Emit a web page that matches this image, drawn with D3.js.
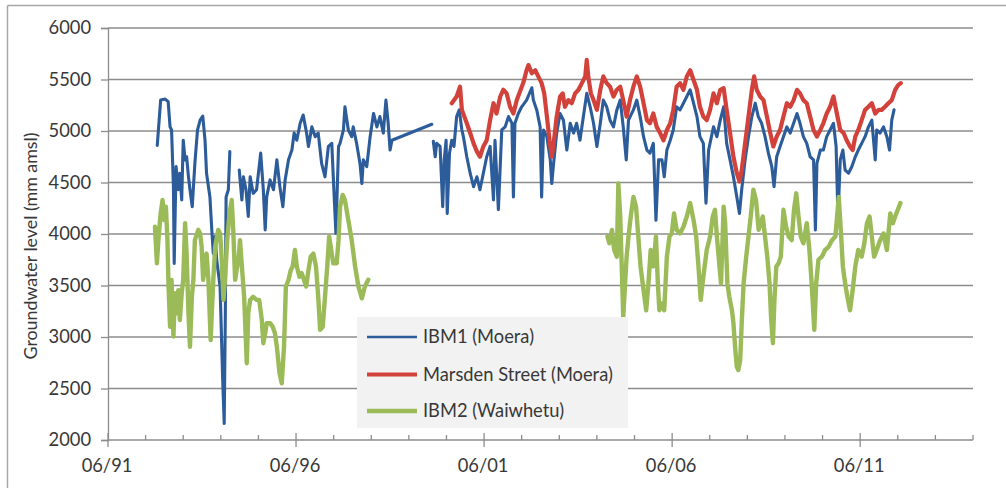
<!DOCTYPE html>
<html>
<head>
<meta charset="utf-8">
<script src="https://cdn.jsdelivr.net/npm/d3@7"></script>
<style>
  html, body { margin: 0; padding: 0; background: #ffffff; }
  svg { display: block; }
</style>
</head>
<body>
<svg id="chart" width="1006" height="491"></svg>
<script>
// ---------------- DATA ----------------
const seriesNames = ["IBM1 (Moera)", "Marsden Street (Moera)", "IBM2 (Waiwhetu)"];
const yTickValues = [2000, 2500, 3000, 3500, 4000, 4500, 5000, 5500, 6000];
const xMajorTicks = [1991.5, 1996.5, 2001.5, 2006.5, 2011.5];
const xTickLabels = ["06/91", "06/96", "06/01", "06/06", "06/11"];
const xMinorTicks = [1992.5,1993.5,1994.5,1995.5,1997.5,1998.5,1999.5,2000.5,2002.5,2003.5,2004.5,2005.5,2007.5,2008.5,2009.5,2010.5,2012.5,2013.5,2014.5];

// IBM1 (Moera) — [decimal year, level mm amsl]; null = gap
const ibm1 = [
[1992.81,4860],[1992.90,5300],[1993.02,5310],[1993.10,5285],[1993.15,5040],[1993.19,5010],[1993.24,4460],[1993.26,3715],[1993.31,4655],[1993.37,4430],[1993.41,4590],[1993.46,4330],[1993.50,4910],[1993.55,4720],[1993.59,4750],[1993.64,4555],[1993.68,4430],[1993.74,4265],[1993.81,4685],[1993.88,5010],[1993.95,5105],[1994.02,5145],[1994.08,4910],[1994.12,4590],[1994.21,4360],[1994.26,4040],[1994.30,3810],[1994.35,3975],[1994.39,3750],[1994.48,3490],[1994.55,2580],[1994.59,2160],[1994.62,3230],[1994.64,4360],[1994.70,4430],[1994.74,4800],
null,
[1994.99,4620],[1995.06,4330],[1995.10,4555],[1995.17,4430],[1995.23,4170],[1995.28,4555],[1995.36,4395],[1995.45,4430],[1995.56,4785],[1995.63,4430],[1995.68,4040],[1995.72,4360],[1995.81,4525],[1995.90,4430],[1995.99,4720],[1996.07,4460],[1996.15,4265],[1996.21,4525],[1996.30,4720],[1996.39,4815],[1996.45,4980],[1996.52,4910],[1996.61,5075],[1996.69,5155],[1996.78,4980],[1996.83,4850],[1996.92,5040],[1997.01,4945],[1997.09,4980],[1997.18,4685],[1997.27,4555],[1997.36,4850],[1997.45,4880],[1997.49,4555],[1997.56,4005],[1997.63,4850],[1997.67,4880],[1997.76,5010],[1997.80,5235],[1997.89,5010],[1997.98,4945],[1998.02,5040],[1998.11,4880],[1998.20,4685],[1998.25,4490],[1998.29,4720],[1998.38,4655],[1998.47,4945],[1998.56,5170],[1998.65,5040],[1998.73,5140],[1998.82,4980],[1998.89,5300],[1998.95,5075],[1999.00,4815],[1999.05,4910],[2000.11,5065],
null,
[2000.15,4900],[2000.20,4750],[2000.24,4880],[2000.33,4850],[2000.40,4265],[2000.44,4720],[2000.49,4910],[2000.52,4200],[2000.58,4785],[2000.64,4910],[2000.70,4850],[2000.77,5140],[2000.84,5205],[2000.91,5010],[2000.95,4945],[2001.04,4750],[2001.13,4590],[2001.22,4460],[2001.31,4555],[2001.39,4430],[2001.48,4590],[2001.57,4750],[2001.66,4850],[2001.75,4330],[2001.79,4910],[2001.88,4235],[2001.97,5010],[2002.06,5040],[2002.15,5140],[2002.24,5075],[2002.28,4360],[2002.32,5075],[2002.41,5170],[2002.50,5235],[2002.63,5300],[2002.77,5420],[2002.81,5300],[2002.90,5205],[2002.99,5040],[2003.03,4360],[2003.08,5010],[2003.17,4945],[2003.26,4720],[2003.30,4490],[2003.34,4655],[2003.43,4980],[2003.52,5170],[2003.61,5105],[2003.70,4815],[2003.79,5075],[2003.88,4980],[2003.96,5075],[2004.05,4910],[2004.14,5140],[2004.23,5365],[2004.32,5235],[2004.41,5075],[2004.50,4850],[2004.59,5075],[2004.67,5300],[2004.76,5235],[2004.85,5105],[2004.94,5040],[2005.03,5205],[2005.12,5300],[2005.20,5040],[2005.28,4720],[2005.34,5105],[2005.47,5205],[2005.56,5300],[2005.65,5140],[2005.74,4945],[2005.83,4815],[2005.91,4785],[2006.00,4880],[2006.07,4135],[2006.14,4720],[2006.23,4720],[2006.29,4555],[2006.36,4815],[2006.45,4910],[2006.53,5010],[2006.62,5235],[2006.71,5205],[2006.80,5270],[2006.89,5335],[2006.98,5400],[2007.07,5270],[2007.16,5140],[2007.24,4945],[2007.33,4880],[2007.40,4300],[2007.47,4815],[2007.60,5040],[2007.69,4945],[2007.78,5105],[2007.87,5235],[2007.95,4880],[2008.04,4720],[2008.13,4555],[2008.22,4360],[2008.29,4200],[2008.35,4430],[2008.44,4720],[2008.53,4945],[2008.62,5140],[2008.71,5270],[2008.79,5140],[2008.88,5075],[2008.97,4945],[2009.06,4785],[2009.15,4655],[2009.21,4460],[2009.28,4750],[2009.37,4850],[2009.46,4945],[2009.55,5040],[2009.64,4980],[2009.73,5075],[2009.82,5170],[2009.90,5075],[2009.99,4945],[2010.08,4880],[2010.17,4750],[2010.26,4720],[2010.31,4040],[2010.35,4685],[2010.44,4815],[2010.52,4815],[2010.61,4945],[2010.70,5010],[2010.79,5075],[2010.86,4850],[2010.91,4150],[2010.97,4720],[2011.04,4815],[2011.10,4620],[2011.19,4590],[2011.28,4655],[2011.37,4750],[2011.45,4815],[2011.54,4880],[2011.63,4945],[2011.72,5040],[2011.81,5105],[2011.90,4720],[2011.94,5010],[2012.03,4980],[2012.12,5040],[2012.21,4945],[2012.28,4815],[2012.34,5105],[2012.40,5205]
];

// Marsden Street (Moera)
const marsden = [
[2000.64,5270],[2000.77,5335],[2000.86,5430],[2000.91,5205],[2001.04,5075],[2001.13,4980],[2001.22,4880],[2001.31,4800],[2001.39,4750],[2001.48,4850],[2001.57,4910],[2001.66,5105],[2001.75,5270],[2001.83,5170],[2001.93,5335],[2002.01,5400],[2002.10,5365],[2002.19,5235],[2002.28,5170],[2002.37,5300],[2002.54,5465],[2002.63,5590],[2002.68,5640],[2002.77,5560],[2002.86,5590],[2002.94,5530],[2003.03,5465],[2003.10,5365],[2003.17,5140],[2003.24,4910],[2003.30,4750],[2003.34,4850],[2003.43,5140],[2003.52,5335],[2003.59,5365],[2003.65,5235],[2003.74,5300],[2003.83,5270],[2003.92,5365],[2004.01,5400],[2004.10,5465],[2004.19,5530],[2004.23,5690],[2004.27,5530],[2004.34,5365],[2004.41,5300],[2004.50,5205],[2004.59,5400],[2004.67,5530],[2004.76,5465],[2004.85,5430],[2004.94,5335],[2005.03,5400],[2005.12,5430],[2005.20,5300],[2005.29,5140],[2005.38,5300],[2005.47,5430],[2005.56,5530],[2005.65,5430],[2005.74,5270],[2005.83,5105],[2005.91,5075],[2006.00,5170],[2006.09,5040],[2006.18,4980],[2006.27,4910],[2006.36,5010],[2006.45,5075],[2006.53,5205],[2006.62,5430],[2006.71,5465],[2006.80,5400],[2006.89,5530],[2006.98,5590],[2007.07,5495],[2007.16,5400],[2007.24,5235],[2007.33,5140],[2007.42,5105],[2007.51,5205],[2007.60,5365],[2007.69,5270],[2007.78,5400],[2007.87,5415],[2007.95,5205],[2008.04,4980],[2008.13,4750],[2008.22,4590],[2008.29,4510],[2008.35,4620],[2008.44,4880],[2008.53,5140],[2008.62,5400],[2008.68,5530],[2008.75,5400],[2008.84,5335],[2008.93,5300],[2009.02,5140],[2009.11,4980],[2009.19,4850],[2009.28,4945],[2009.37,5010],[2009.46,5140],[2009.55,5270],[2009.64,5235],[2009.73,5300],[2009.82,5400],[2009.90,5365],[2009.99,5300],[2010.08,5270],[2010.17,5140],[2010.26,5010],[2010.35,4945],[2010.44,5010],[2010.52,5075],[2010.61,5170],[2010.70,5235],[2010.79,5335],[2010.88,5170],[2010.97,5010],[2011.06,4980],[2011.14,4910],[2011.23,4850],[2011.30,4815],[2011.37,4945],[2011.45,5010],[2011.54,5105],[2011.63,5205],[2011.72,5235],[2011.81,5270],[2011.90,5170],[2011.99,5205],[2012.07,5205],[2012.16,5235],[2012.25,5270],[2012.34,5300],[2012.43,5400],[2012.51,5445],[2012.58,5465]
];

// IBM2 (Waiwhetu)
const ibm2 = [
[1992.75,4070],[1992.80,3715],[1992.84,3940],[1992.90,4200],[1992.95,4330],[1992.99,4135],[1993.04,4265],[1993.08,3940],[1993.11,3490],[1993.15,3100],[1993.19,3555],[1993.24,3005],[1993.28,3425],[1993.33,3230],[1993.37,3455],[1993.41,3165],[1993.46,3425],[1993.50,3555],[1993.55,4105],[1993.59,3810],[1993.64,3230],[1993.68,2905],[1993.73,3390],[1993.77,3555],[1993.81,3940],[1993.90,4040],[1993.95,4005],[1993.99,3875],[1994.03,3555],[1994.08,3715],[1994.12,3810],[1994.17,3555],[1994.23,2970],[1994.26,3230],[1994.30,3555],[1994.35,3875],[1994.43,4040],[1994.48,4005],[1994.52,3780],[1994.57,3360],[1994.61,3555],[1994.67,3940],[1994.73,4200],[1994.79,4330],[1994.83,4040],[1994.88,3555],[1994.92,3650],[1994.97,3750],[1995.01,3940],[1995.06,3685],[1995.12,3390],[1995.19,2745],[1995.23,3230],[1995.28,3360],[1995.36,3390],[1995.45,3360],[1995.52,3360],[1995.59,3165],[1995.63,2940],[1995.68,3035],[1995.72,3135],[1995.81,3135],[1995.88,3100],[1995.94,3035],[1995.99,2905],[1996.06,2650],[1996.12,2550],[1996.18,2905],[1996.23,3490],[1996.30,3555],[1996.36,3650],[1996.41,3685],[1996.47,3845],[1996.52,3685],[1996.59,3585],[1996.65,3620],[1996.71,3555],[1996.77,3490],[1996.83,3650],[1996.89,3780],[1996.96,3810],[1997.03,3685],[1997.09,3390],[1997.14,3070],[1997.21,3100],[1997.27,3390],[1997.33,3685],[1997.38,3975],[1997.45,3810],[1997.49,3715],[1997.58,3715],[1997.63,3940],[1997.67,4265],[1997.74,4380],[1997.80,4330],[1997.89,4135],[1997.98,3940],[1998.07,3685],[1998.16,3490],[1998.25,3375],[1998.33,3490],[1998.42,3555],
null,
[2004.78,3975],[2004.83,3910],[2004.90,4040],[2004.96,3845],[2005.03,3780],[2005.07,4490],[2005.12,4170],[2005.16,3685],[2005.20,3195],[2005.25,3520],[2005.29,3780],[2005.34,3975],[2005.40,4170],[2005.47,4360],[2005.54,4265],[2005.60,3975],[2005.66,3685],[2005.74,3455],[2005.81,3260],[2005.87,3520],[2005.93,3845],[2006.00,3685],[2006.07,3975],[2006.12,3520],[2006.16,3260],[2006.23,3325],[2006.29,3260],[2006.36,3780],[2006.43,3975],[2006.49,4005],[2006.55,4200],[2006.62,4040],[2006.71,4005],[2006.80,4070],[2006.89,4170],[2006.98,4300],[2007.07,4135],[2007.14,3975],[2007.20,3685],[2007.26,3360],[2007.33,3585],[2007.42,3845],[2007.51,3975],[2007.58,4170],[2007.64,4235],[2007.69,3975],[2007.76,3685],[2007.80,3520],[2007.87,4265],[2007.91,4105],[2007.97,3520],[2008.02,3390],[2008.09,3260],[2008.13,3135],[2008.18,2875],[2008.22,2710],[2008.26,2680],[2008.31,2775],[2008.35,3135],[2008.40,3520],[2008.47,3780],[2008.53,3975],[2008.59,4170],[2008.66,4430],[2008.73,4330],[2008.80,4040],[2008.86,4105],[2008.91,4170],[2008.97,3975],[2009.03,3780],[2009.09,3520],[2009.13,3195],[2009.18,2940],[2009.22,3360],[2009.27,3685],[2009.33,3715],[2009.39,3780],[2009.46,4235],[2009.53,4070],[2009.60,3975],[2009.68,3940],[2009.74,4235],[2009.80,4395],[2009.86,4170],[2009.92,3975],[2009.99,3910],[2010.08,4105],[2010.15,3845],[2010.21,3520],[2010.28,3070],[2010.33,3520],[2010.39,3750],[2010.48,3780],[2010.57,3845],[2010.66,3875],[2010.75,3940],[2010.84,3975],[2010.93,4360],[2010.99,4005],[2011.04,3685],[2011.10,3520],[2011.16,3390],[2011.23,3260],[2011.30,3455],[2011.37,3685],[2011.45,3845],[2011.54,3780],[2011.61,3910],[2011.68,4105],[2011.75,4170],[2011.81,3975],[2011.87,3780],[2011.94,3845],[2012.03,3940],[2012.12,4005],[2012.21,3845],[2012.30,4200],[2012.37,4105],[2012.43,4170],[2012.50,4235],[2012.57,4300]
];

// ---------------- STYLE ----------------
const FONT = "Lato, 'Open Sans', 'DejaVu Sans', sans-serif";
const TEXT_COLOR = "#383838";
const GRID_COLOR = "#8c8c8c";
const colors = ["#2d5c9a", "#d3413b", "#9bbb59"];
const widths = [3.1, 4.2, 4.4];
const legendWidths = [2.6, 4, 4.4];

const svg = d3.select("#chart");

// fit font size (Calibri-like proportions of the reference)
const probe = svg.append("text").style("font-family", FONT).style("font-size", "20px").text("Marsden Street (Moera)");
const measured = probe.node().getComputedTextLength() || 192;
const fs = Math.max(14, Math.min(22, 20 * 190 / measured));
probe.remove();

// outer frame (left and top edges visible)
svg.append("line").attr("x1", 7.5).attr("y1", 5.5).attr("x2", 1006).attr("y2", 5.5)
  .attr("stroke", "#a6a6a6").attr("stroke-width", 1.5);
svg.append("line").attr("x1", 7.5).attr("y1", 5.5).attr("x2", 7.5).attr("y2", 488)
  .attr("stroke", "#a6a6a6").attr("stroke-width", 1.5);

const x = d3.scaleLinear().domain([1991.5, 2014.5]).range([108, 973]);
const y = d3.scaleLinear().domain([2000, 6000]).range([440, 28]);

// gridlines
svg.append("g").selectAll("line").data(yTickValues.filter(v => v > 2000)).join("line")
  .attr("x1", x(1991.5)).attr("x2", x(2014.5))
  .attr("y1", d => y(d)).attr("y2", d => y(d))
  .attr("stroke", GRID_COLOR).attr("stroke-width", 1.3);

// y axis
const yAxis = d3.axisLeft(y).tickValues(yTickValues).tickSize(7).tickPadding(10).tickFormat(d3.format("d"));
const gy = svg.append("g").attr("transform", `translate(${x(1991.5)},0)`).call(yAxis);
gy.select(".domain").attr("stroke", GRID_COLOR).attr("stroke-width", 1.3);
gy.selectAll(".tick line").attr("stroke", GRID_COLOR).attr("stroke-width", 1.3);
gy.selectAll(".tick text").style("font-family", FONT).style("font-size", fs + "px").attr("fill", TEXT_COLOR);

// x axis: minor ticks (inside) and major ticks (cross)
const gx = svg.append("g").attr("transform", `translate(0,${y(2000)})`);
gx.append("line").attr("x1", x(1991.5)).attr("x2", x(2014.5)).attr("y1", 0).attr("y2", 0)
  .attr("stroke", GRID_COLOR).attr("stroke-width", 1.3);
gx.selectAll("line.minor").data(xMinorTicks).join("line").attr("class", "minor")
  .attr("x1", d => x(d)).attr("x2", d => x(d)).attr("y1", -5).attr("y2", 0)
  .attr("stroke", GRID_COLOR).attr("stroke-width", 1.3);
gx.selectAll("line.major").data(xMajorTicks).join("line").attr("class", "major")
  .attr("x1", d => x(d)).attr("x2", d => x(d)).attr("y1", -7).attr("y2", 7)
  .attr("stroke", GRID_COLOR).attr("stroke-width", 1.3);
gx.selectAll("text").data(xMajorTicks).join("text")
  .attr("x", d => x(d) - 1).attr("y", 26).attr("dy", "0.35em")
  .attr("text-anchor", "middle")
  .style("font-family", FONT).style("font-size", fs + "px").attr("fill", TEXT_COLOR)
  .text((d, i) => xTickLabels[i]);

// y axis title
svg.append("text")
  .attr("transform", `translate(31,${(y(2000) + y(6000)) / 2 + 12}) rotate(-90)`)
  .attr("text-anchor", "middle").attr("dy", "0.35em")
  .style("font-family", FONT).style("font-size", (fs - 0.5) + "px").attr("fill", TEXT_COLOR)
  .text("Groundwater level (mm amsl)");

// series
const line = d3.line()
  .defined(d => d !== null)
  .x(d => x(d[0])).y(d => y(d[1]))
  .curve(d3.curveLinear);

const allSeries = [ibm1, marsden, ibm2];
allSeries.forEach((s, i) => {
  svg.append("path").datum(s)
    .attr("d", line)
    .attr("fill", "none")
    .attr("stroke", colors[i])
    .attr("stroke-width", widths[i])
    .attr("stroke-linejoin", "round")
    .attr("stroke-linecap", "round");
});

// legend
const lg = svg.append("g");
lg.append("rect").attr("x", 357).attr("y", 317).attr("width", 271).attr("height", 111).attr("fill", "#f2f2f2");
const legendY = [337, 374.5, 411];
seriesNames.forEach((name, i) => {
  lg.append("line").attr("x1", 367).attr("x2", 417).attr("y1", legendY[i]).attr("y2", legendY[i])
    .attr("stroke", colors[i]).attr("stroke-width", legendWidths[i]);
  lg.append("text").attr("x", 423).attr("y", legendY[i]).attr("dy", "0.35em")
    .style("font-family", FONT).style("font-size", fs + "px").attr("fill", TEXT_COLOR)
    .text(name);
});
</script>
</body>
</html>
